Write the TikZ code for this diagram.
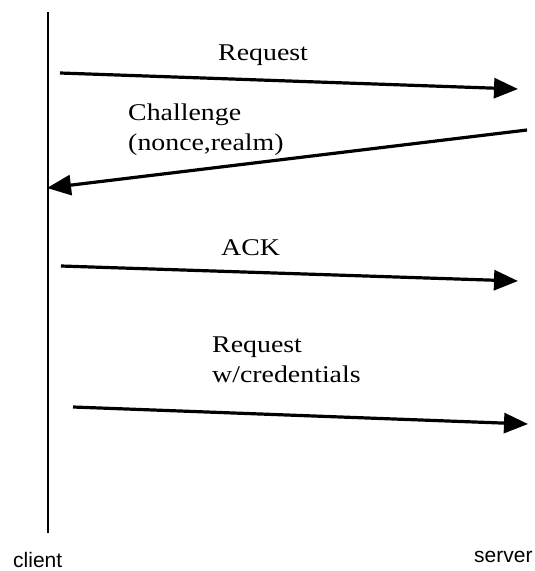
\documentclass[tikz,border=0pt]{standalone}
\usepackage{fontspec}
\setmainfont{Liberation Serif}
\newfontfamily\labelsans{Liberation Sans}
\usetikzlibrary{arrows.meta}
\begin{document}
\begin{tikzpicture}[x=1pt,y=-1pt,
  msg/.style={line width=3.2pt,-{Triangle[length=24pt,width=20pt]}},
  lifeline/.style={line width=1.8pt},
  msgtext/.style={font=\fontsize{24}{30}\selectfont,inner sep=0pt,align=left,
    xscale=1.16,transform shape},
  endtext/.style={font=\labelsans\fontsize{21}{24}\selectfont,inner sep=0pt}]
\useasboundingbox (0,0) rectangle (535,571);

% client lifeline
\coordinate (top) at (48,12);
\coordinate (bottom) at (48,533);
\draw[lifeline] (top) -- (bottom);

% message end points
\coordinate (r1s) at (60,73);   \coordinate (r1e) at (518,89);
\coordinate (c1s) at (527,130); \coordinate (c1e) at (47,188);
\coordinate (a1s) at (61,266);  \coordinate (a1e) at (518,281);
\coordinate (r2s) at (73,407);  \coordinate (r2e) at (528,424);

\draw[msg] (r1s) -- (r1e);
\draw[msg] (c1s) -- (c1e);
\draw[msg] (a1s) -- (a1e);
\draw[msg] (r2s) -- (r2e);

% message labels
\node[msgtext,anchor=west] (lreq) at (218,55) {Request};
\node[msgtext,anchor=north west] (lchal) at (128,104) {Challenge\\(nonce,realm)};
\node[msgtext,anchor=west] (lack) at (221,248) {ACK};
\node[msgtext,anchor=north west] (lcred) at (212,337) {Request\\w/credentials};

% participant names
\node[endtext,anchor=west] (client) at (13,560) {client};
\node[endtext,anchor=west] (server) at (474,557) {server};
\end{tikzpicture}
\end{document}
